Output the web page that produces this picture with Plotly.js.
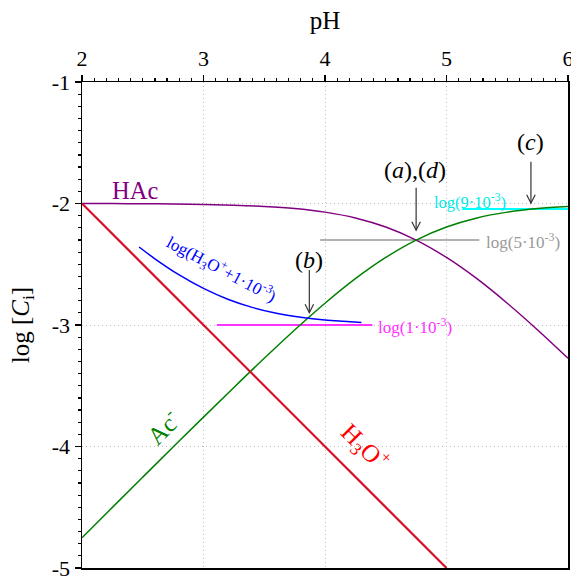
<!DOCTYPE html>
<html>
<head>
<meta charset="utf-8">
<script src="https://cdn.plot.ly/plotly-3.0.1.min.js"></script>
<style>html,body{margin:0;padding:0;background:#fff;}#chart{width:571px;height:578px;}</style>
</head>
<body>
<div id="chart"></div>
<script>
// ---- data ----
const pH = [2.0,2.25,2.5,2.75,3.0,3.25,3.5,3.75,4.0,4.25,4.5,4.75,5.0,5.25,5.5,5.75,6.0];
const logHAc = [-2.001,-2.001,-2.002,-2.004,-2.008,-2.014,-2.024,-2.041,-2.071,-2.119,-2.194,-2.301,-2.444,-2.619,-2.821,-3.041,-3.274];
const logAc  = [-4.751,-4.501,-4.252,-4.004,-3.758,-3.514,-3.274,-3.041,-2.821,-2.619,-2.444,-2.301,-2.194,-2.119,-2.071,-2.041,-2.024];
const pH_H3O = [2, 5];
const logH3O = [-2, -5];
const pH_blue = [2.47,2.6,2.8,3.0,3.2,3.4,3.6,3.8,4.0,4.15,4.3];
const logBlue = [-2.358,-2.455,-2.588,-2.699,-2.788,-2.855,-2.903,-2.936,-2.959,-2.970,-2.979];
const pH_ref1 = [3.11, 4.39], logRef1 = [-3.0, -3.0];
const pH_ref5 = [3.96, 5.27], logRef5 = [-2.301, -2.301];
const pH_ref9 = [5.13, 6.0],  logRef9 = [-2.046, -2.046];
const xTickVals = [2,3,4,5,6];
const xTickText = ['2','3','4','5','6'];
const yTickVals = [-5,-4,-3,-2,-1];
const yTickText = ['-5','-4','-3','-2','-1'];
// arrows: [pH, tail y, tip y]
const arrowsX = [4.75, 3.871, 5.695];
const arrowsTail = [-1.87, -2.547, -1.656];
const arrowsTip = [-2.22, -2.899, -1.998];

const FONT = 'Liberation Serif';

const traces = [
  {x: pH_ref1, y: logRef1, mode:'lines', line:{color:'#ff33ff', width:2}},
  {x: pH_ref5, y: logRef5, mode:'lines', line:{color:'#999999', width:1.5}},
  {x: pH_ref9, y: logRef9, mode:'lines', line:{color:'#00ffff', width:2}},
  {x: pH, y: logHAc, mode:'lines', line:{color:'#800080', width:1.5, shape:'spline'}},
  {x: pH, y: logAc, mode:'lines', line:{color:'#008000', width:1.5, shape:'spline'}},
  {x: pH_blue, y: logBlue, mode:'lines', line:{color:'#0000ff', width:1.5, shape:'spline'}},
  {x: pH_H3O, y: logH3O, mode:'lines', line:{color:'#ff0000', width:2.2}},
  {x: pH_H3O, y: logH3O, mode:'lines', line:{color:'#4040c0', width:0.6}}
];

const shapes = [];
const dx = 0.035, dy = 0.07;
for (let i = 0; i < arrowsX.length; i++) {
  shapes.push({type:'line', xref:'x', yref:'y', x0:arrowsX[i], x1:arrowsX[i], y0:arrowsTail[i], y1:arrowsTip[i], line:{color:'#333', width:1.2}});
  shapes.push({type:'path', xref:'x', yref:'y',
    path:`M ${arrowsX[i]-dx},${arrowsTip[i]+dy} L ${arrowsX[i]},${arrowsTip[i]} L ${arrowsX[i]+dx},${arrowsTip[i]+dy}`,
    line:{color:'#333', width:1.2}});
}

function ann(text, x, y, color, size, angle, extra) {
  return Object.assign({text, x, y, xref:'x', yref:'y', showarrow:false,
    font:{family:FONT, size, color}, textangle: angle || 0}, extra || {});
}

const annotations = [
  ann('HAc', 2.44, -1.89, '#800080', 24.5),
  ann('Ac<sup>-</sup>', 2.66, -3.84, '#008000', 25, -45),
  ann('H<sub>3</sub>O<sup>+</sup>', 4.33, -4.0, '#ff0000', 25, 45),
  ann('log(H<sub>3</sub>O<sup>+</sup>+1·10<sup>-3</sup>)', 3.15, -2.54, '#0000ff', 17, 28),
  ann('(<i>b</i>)', 3.87, -2.465, '#000', 24),
  ann('(<i>a</i>),(<i>d</i>)', 4.74, -1.724, '#000', 24),
  ann('(<i>c</i>)', 5.695, -1.491, '#000', 24),
  ann('log(9·10<sup>-3</sup>)', 5.19, -1.985, '#00e8e8', 16.5),
  ann('log(5·10<sup>-3</sup>)', 5.63, -2.31, '#999999', 17),
  ann('log(1·10<sup>-3</sup>)', 4.74, -3.01, '#ff33ff', 17)
];

const axisCommon = {
  ticks: 'outside', ticklen: 6, tickwidth: 1.2, tickcolor: '#000',
  minor: {dtick: 0.1, ticks: 'outside', ticklen: 3, tickcolor: '#000', showgrid: false},
  showline: true, linecolor: '#000', linewidth: 1.5, mirror: true,
  showgrid: true, gridcolor: '#bdbdbd', griddash: '1px,3px', gridwidth: 1,
  zeroline: false, tickfont: {family: FONT, size: 22, color: '#000'},
  ticklabeloverflow: 'allow'
};

const layout = {
  width: 571, height: 578,
  margin: {l: 82, r: 3, t: 82, b: 10},
  paper_bgcolor: '#fff', plot_bgcolor: '#fff',
  showlegend: false,
  font: {family: FONT, size: 22, color: '#000'},
  xaxis: Object.assign({}, axisCommon, {
    range: [2, 6], side: 'top', tickvals: xTickVals, ticktext: xTickText,
    title: {text: 'pH', font: {family: FONT, size: 25}, standoff: 9}
  }),
  yaxis: Object.assign({}, axisCommon, {
    range: [-5, -1], tickvals: yTickVals, ticktext: yTickText,
    title: {text: 'log [<i>C</i><sub>i</sub>]', font: {family: FONT, size: 25}, standoff: 15}
  }),
  shapes, annotations
};

Plotly.newPlot('chart', traces, layout, {displayModeBar: false, staticPlot: true});
</script>
</body>
</html>
